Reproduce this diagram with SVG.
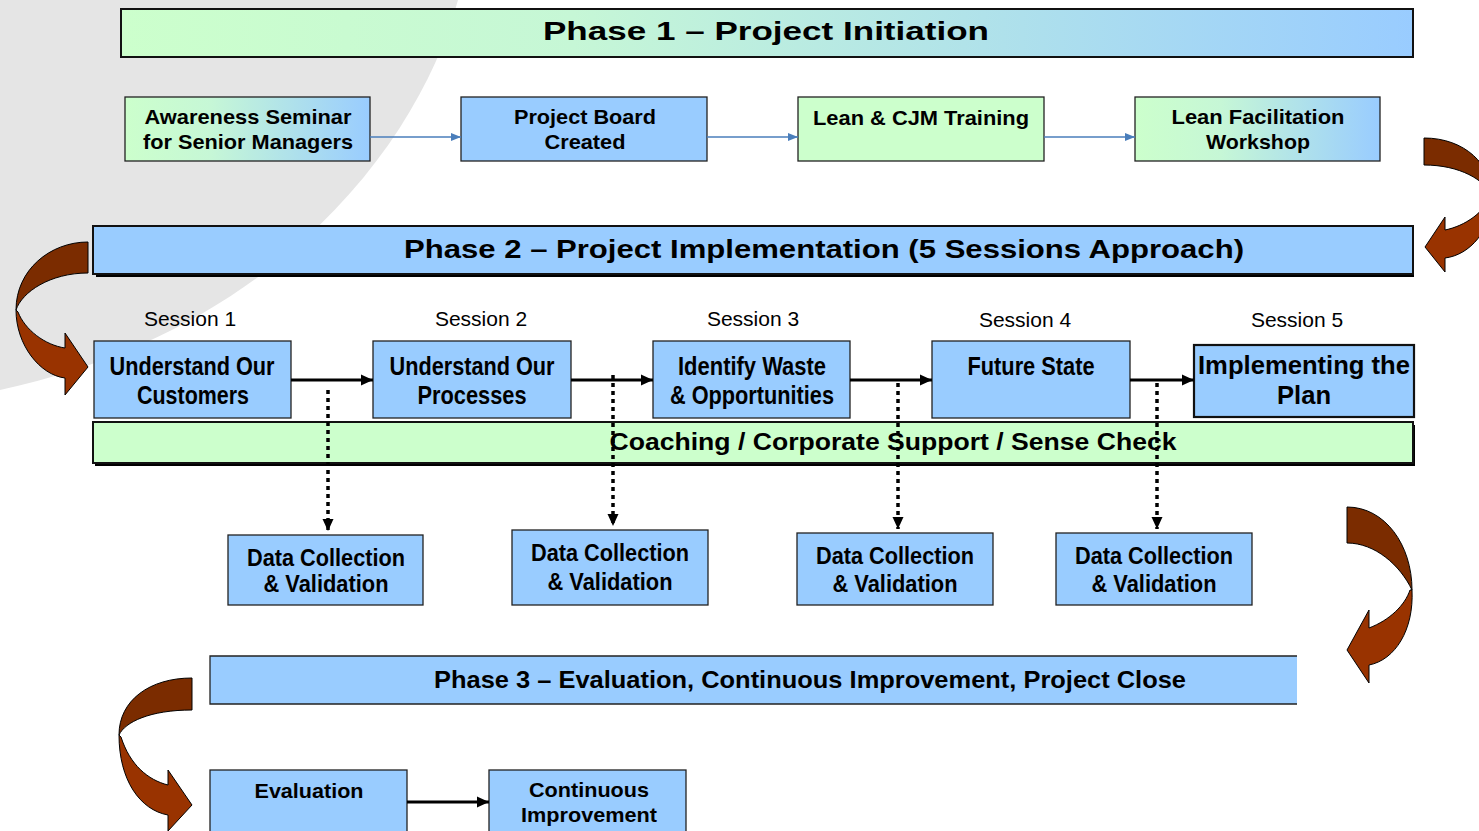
<svg xmlns="http://www.w3.org/2000/svg" width="1479" height="831" viewBox="0 0 1479 831">
<style>
.t{font-family:"Liberation Sans",Arial,sans-serif;font-weight:bold;fill:#000;text-anchor:middle}
.n{font-family:"Liberation Sans Narrow","Liberation Sans",Arial,sans-serif;font-weight:bold;fill:#000;text-anchor:middle}
.r{font-family:"Liberation Sans",Arial,sans-serif;font-weight:normal;fill:#000;text-anchor:middle;font-size:21px}
.blue{fill:#99ccff;stroke:#222;stroke-width:1.3}
.green{fill:#ccffcc;stroke:#222;stroke-width:1.3}
.grad{fill:url(#gb);stroke:#222;stroke-width:1.3}
.dk{fill:#7b2c00;stroke:#000;stroke-width:1}
.lt{fill:#993300;stroke:#000;stroke-width:1}
.thin{stroke:#4a7ebb;stroke-width:1.3;fill:none;marker-end:url(#ab)}
.thick{stroke:#000;stroke-width:3;fill:none;marker-end:url(#ak)}
.dot{stroke:#000;stroke-width:3.5;stroke-dasharray:4 4;fill:none;marker-end:url(#ak)}
</style>
<defs>
<linearGradient id="gb" x1="0" y1="0" x2="1" y2="0">
<stop offset="0" stop-color="#ccffcc"/>
<stop offset="0.35" stop-color="#c6f7d6"/>
<stop offset="1" stop-color="#99ccff"/>
</linearGradient>
<marker id="ab" viewBox="0 0 10 10" refX="10" refY="5" markerWidth="10" markerHeight="10" markerUnits="userSpaceOnUse" orient="auto">
<path d="M0,1 L10,5 L0,9 z" fill="#4a7ebb"/>
</marker>
<marker id="ak" viewBox="0 0 12 12" refX="12" refY="6" markerWidth="12" markerHeight="12" markerUnits="userSpaceOnUse" orient="auto">
<path d="M0,0.5 L12,6 L0,11.5 z" fill="#000"/>
</marker>
</defs>
<rect x="0" y="0" width="1479" height="831" fill="#fff"/>
<path d="M0,0 L458,0 C420,140 280,330 0,390 Z" fill="#e5e5e5"/>

<g id="curved-arrows">
<path class="dk" d="M1424,138 C1465,138 1492,165 1492,196 C1485,180 1460,165 1424,165 Z"/>
<path class="lt" d="M1492,196 C1492,230 1470,255 1445,258 L1445,272 L1425,247 L1445,217 L1445,230 C1465,226 1485,212 1490,196 Z"/>
<path class="dk" d="M88,242 C50,242 16,270 16,310 C22,292 50,273 88,273 Z"/>
<path class="lt" d="M16,310 C16,345 40,375 65,378 L65,395 L88,367 L65,333 L65,348 C45,345 25,330 18,312 Z"/>
<path class="dk" d="M1347,507 C1385,507 1412,545 1412,590 C1400,565 1375,543 1347,543 Z"/>
<path class="lt" d="M1412,590 C1414,630 1395,660 1369,665 L1369,683 L1347,650 L1369,610 L1369,628 C1390,620 1405,605 1410,590 Z"/>
<path class="dk" d="M192,678 C150,678 119,700 119,735 C125,722 150,710 192,710 Z"/>
<path class="lt" d="M119,735 C119,780 140,810 168,815 L168,831 L192,805 L168,770 L168,785 C148,780 130,765 121,737 Z"/>
</g>

<g id="phase1">
<rect x="121" y="9" width="1292" height="48" fill="url(#gb)" stroke="#111" stroke-width="2"/>
<text class="t" x="766" y="40" font-size="26" textLength="446" lengthAdjust="spacingAndGlyphs">Phase 1 – Project Initiation</text>
</g>
<g id="awareness">
<rect class="grad" x="125" y="97" width="245" height="64"/>
<text class="t" x="248" y="124" font-size="21" textLength="207" lengthAdjust="spacingAndGlyphs">Awareness Seminar</text>
<text class="t" x="248" y="149" font-size="21" textLength="210" lengthAdjust="spacingAndGlyphs">for Senior Managers</text>
</g>
<g id="board">
<rect class="blue" x="461" y="97" width="246" height="64"/>
<text class="t" x="585" y="124" font-size="21" textLength="142" lengthAdjust="spacingAndGlyphs">Project Board</text>
<text class="t" x="585" y="149" font-size="21" textLength="81" lengthAdjust="spacingAndGlyphs">Created</text>
</g>
<g id="training">
<rect class="green" x="798" y="97" width="246" height="64"/>
<text class="t" x="921" y="125" font-size="21" textLength="216" lengthAdjust="spacingAndGlyphs">Lean &amp; CJM Training</text>
</g>
<g id="workshop">
<rect class="grad" x="1135" y="97" width="245" height="64"/>
<text class="t" x="1258" y="124" font-size="21" textLength="173" lengthAdjust="spacingAndGlyphs">Lean Facilitation</text>
<text class="t" x="1258" y="149" font-size="21" textLength="104" lengthAdjust="spacingAndGlyphs">Workshop</text>
</g>

<g id="phase2">
<rect x="96" y="229" width="1318" height="48" fill="#000"/>
<rect x="93" y="226" width="1320" height="48" fill="#99ccff" stroke="#111" stroke-width="2"/>
<text class="t" x="824" y="258" font-size="25" textLength="840" lengthAdjust="spacingAndGlyphs">Phase 2 – Project Implementation (5 Sessions Approach)</text>
</g>

<g id="session-labels">
<text class="r" x="190" y="326">Session 1</text>
<text class="r" x="481" y="326">Session 2</text>
<text class="r" x="753" y="326">Session 3</text>
<text class="r" x="1025" y="327">Session 4</text>
<text class="r" x="1297" y="327">Session 5</text>
</g>

<g id="coaching">
<rect x="95" y="425" width="1320" height="41" fill="#000"/>
<rect x="93" y="422" width="1320" height="41" fill="#ccffcc" stroke="#111" stroke-width="2"/>
<text class="t" x="893" y="450" font-size="23" textLength="567" lengthAdjust="spacingAndGlyphs">Coaching / Corporate Support / Sense Check</text>
</g>

<g id="s1">
<rect class="blue" x="94" y="341" width="197" height="77"/>
<text class="n" x="192" y="375" font-size="25" textLength="165" lengthAdjust="spacingAndGlyphs">Understand Our</text>
<text class="n" x="193" y="404" font-size="25" textLength="112" lengthAdjust="spacingAndGlyphs">Customers</text>
</g>
<g id="s2">
<rect class="blue" x="373" y="341" width="198" height="77"/>
<text class="n" x="472" y="375" font-size="25" textLength="165" lengthAdjust="spacingAndGlyphs">Understand Our</text>
<text class="n" x="472" y="404" font-size="25" textLength="109" lengthAdjust="spacingAndGlyphs">Processes</text>
</g>
<g id="s3">
<rect class="blue" x="653" y="341" width="197" height="77"/>
<text class="n" x="752" y="375" font-size="25" textLength="148" lengthAdjust="spacingAndGlyphs">Identify Waste</text>
<text class="n" x="752" y="404" font-size="25" textLength="164" lengthAdjust="spacingAndGlyphs">&amp; Opportunities</text>
</g>
<g id="s4">
<rect class="blue" x="932" y="341" width="198" height="77"/>
<text class="n" x="1031" y="375" font-size="25" textLength="127" lengthAdjust="spacingAndGlyphs">Future State</text>
</g>
<g id="s5">
<rect x="1194" y="345" width="220" height="72" fill="#99ccff" stroke="#111" stroke-width="2.2"/>
<text class="t" x="1304" y="374" font-size="25" textLength="212" lengthAdjust="spacingAndGlyphs">Implementing the</text>
<text class="t" x="1304" y="404" font-size="25" textLength="54" lengthAdjust="spacingAndGlyphs">Plan</text>
</g>

<g id="d1">
<rect class="blue" x="228" y="535" width="195" height="70"/>
<text class="n" x="326" y="566" font-size="24" textLength="158" lengthAdjust="spacingAndGlyphs">Data Collection</text>
<text class="n" x="326" y="592" font-size="24" textLength="125" lengthAdjust="spacingAndGlyphs">&amp; Validation</text>
</g>
<g id="d2">
<rect class="blue" x="512" y="530" width="196" height="75"/>
<text class="n" x="610" y="561" font-size="24" textLength="158" lengthAdjust="spacingAndGlyphs">Data Collection</text>
<text class="n" x="610" y="590" font-size="24" textLength="125" lengthAdjust="spacingAndGlyphs">&amp; Validation</text>
</g>
<g id="d3">
<rect class="blue" x="797" y="533" width="196" height="72"/>
<text class="n" x="895" y="564" font-size="24" textLength="158" lengthAdjust="spacingAndGlyphs">Data Collection</text>
<text class="n" x="895" y="592" font-size="24" textLength="125" lengthAdjust="spacingAndGlyphs">&amp; Validation</text>
</g>
<g id="d4">
<rect class="blue" x="1056" y="533" width="196" height="72"/>
<text class="n" x="1154" y="564" font-size="24" textLength="158" lengthAdjust="spacingAndGlyphs">Data Collection</text>
<text class="n" x="1154" y="592" font-size="24" textLength="125" lengthAdjust="spacingAndGlyphs">&amp; Validation</text>
</g>

<g id="phase3">
<rect x="210" y="656" width="1087" height="48" fill="#99ccff"/>
<path d="M1297,656 L210,656 L210,704 L1297,704" fill="none" stroke="#222" stroke-width="1.3"/>
<text class="t" x="810" y="688" font-size="24" textLength="752" lengthAdjust="spacingAndGlyphs">Phase 3 – Evaluation, Continuous Improvement, Project Close</text>
</g>
<g id="evaluation">
<rect class="blue" x="210" y="770" width="197" height="70"/>
<text class="t" x="309" y="798" font-size="21" textLength="109" lengthAdjust="spacingAndGlyphs">Evaluation</text>
</g>
<g id="improvement">
<rect class="blue" x="489" y="770" width="197" height="70"/>
<text class="t" x="589" y="797" font-size="21" textLength="120" lengthAdjust="spacingAndGlyphs">Continuous</text>
<text class="t" x="589" y="822" font-size="21" textLength="136" lengthAdjust="spacingAndGlyphs">Improvement</text>
</g>

<g id="connectors">
<line class="thin" x1="370" y1="137" x2="461" y2="137"/>
<line class="thin" x1="707" y1="137" x2="798" y2="137"/>
<line class="thin" x1="1044" y1="137" x2="1135" y2="137"/>
<line class="thick" x1="291" y1="380" x2="373" y2="380"/>
<line class="thick" x1="571" y1="380" x2="653" y2="380"/>
<line class="thick" x1="850" y1="380" x2="932" y2="380"/>
<line class="thick" x1="1130" y1="380" x2="1194" y2="380"/>
<line class="dot" x1="328" y1="390" x2="328" y2="531"/>
<line class="dot" x1="613" y1="375" x2="613" y2="526"/>
<line class="dot" x1="898" y1="383" x2="898" y2="529"/>
<line class="dot" x1="1157" y1="383" x2="1157" y2="529"/>
<line class="thick" x1="407" y1="802" x2="489" y2="802"/>
</g>
</svg>
